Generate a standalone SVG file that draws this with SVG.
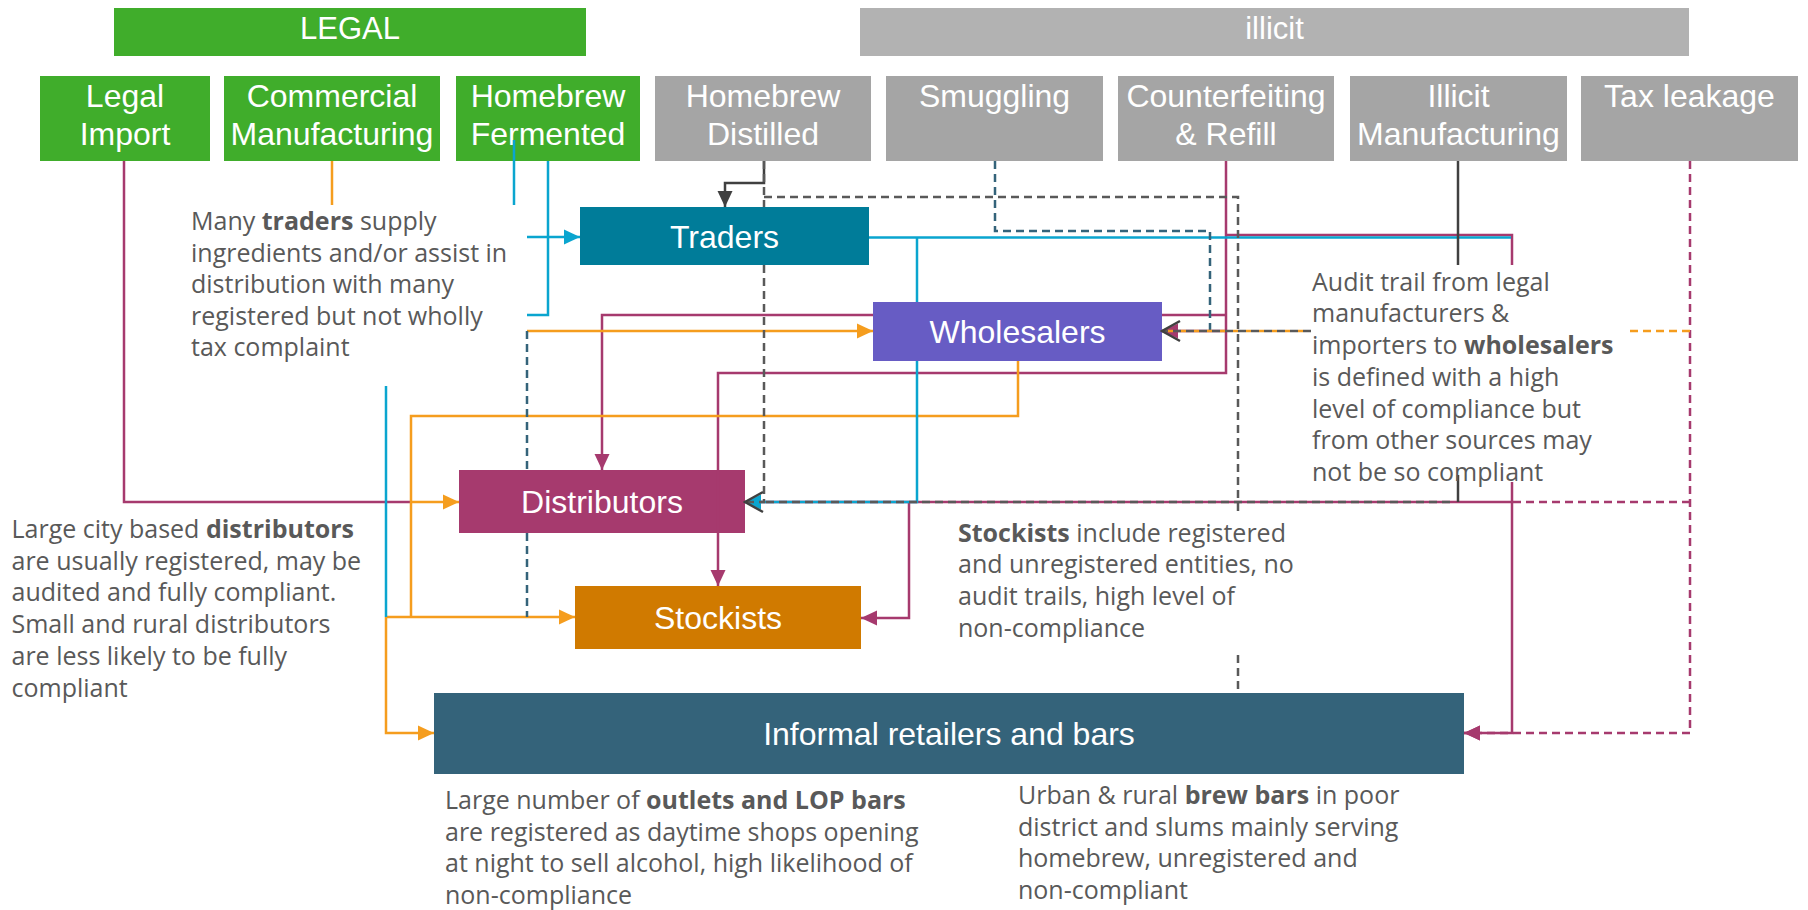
<svg xmlns="http://www.w3.org/2000/svg" width="1808" height="910" viewBox="0 0 1808 910">
<style>
.hdr{font-family:"Liberation Sans",Arial,sans-serif;font-size:31px;fill:#fff;text-anchor:middle}
.bt{font-family:"Liberation Sans",Arial,sans-serif;font-size:32px;fill:#fff;text-anchor:middle}
.note{font-family:"Open Sans","DejaVu Sans",sans-serif;font-size:25px;fill:#595959}
.b{font-weight:bold}
.ln{fill:none;stroke-width:2.5}
.mg{stroke:#A63A6E}
.or{stroke:#F59D1E}
.bl{stroke:#0AA5CF}
.dk{stroke:#404040}
.dd{stroke:#595959;stroke-dasharray:8 5}
.sd{stroke:#34637A;stroke-dasharray:8 5}
.md{stroke:#A63A6E;stroke-dasharray:8 5}
.od{stroke:#F59D1E;stroke-dasharray:8 5}
.odi{stroke:#F59D1E;stroke-dasharray:5 8;stroke-dashoffset:5}
</style>
<defs>
<marker id="aM" markerUnits="userSpaceOnUse" viewBox="0 0 16 16" markerWidth="16" markerHeight="16" refX="16" refY="8" orient="auto"><path d="M0,0.5 L16,8 L0,15.5 Z" fill="#A63A6E"/></marker>
<marker id="aO" markerUnits="userSpaceOnUse" viewBox="0 0 16 16" markerWidth="16" markerHeight="16" refX="16" refY="8" orient="auto"><path d="M0,0.5 L16,8 L0,15.5 Z" fill="#F59D1E"/></marker>
<marker id="aB" markerUnits="userSpaceOnUse" viewBox="0 0 16 16" markerWidth="16" markerHeight="16" refX="16" refY="8" orient="auto"><path d="M0,0.5 L16,8 L0,15.5 Z" fill="#0AA5CF"/></marker>
<marker id="aD" markerUnits="userSpaceOnUse" viewBox="0 0 16 16" markerWidth="16" markerHeight="16" refX="16" refY="8" orient="auto"><path d="M0,0.5 L16,8 L0,15.5 Z" fill="#404040"/></marker>
<marker id="aV" markerUnits="userSpaceOnUse" viewBox="0 0 22 24" markerWidth="22" markerHeight="24" refX="20" refY="12" orient="auto"><path d="M2,2 L20,12 L2,22" fill="none" stroke="#404040" stroke-width="2.5"/></marker>
</defs>
<rect x="0" y="0" width="1808" height="910" fill="#fff"/>

<g id="header-legal"><rect x="114" y="8" width="472" height="48" fill="#40AD2B"/><text class="hdr" x="350" y="39">LEGAL</text></g>
<g id="header-illicit"><rect x="860" y="8" width="829" height="48" fill="#B2B2B2"/><text class="hdr" x="1274.5" y="39">illicit</text></g>

<g id="legal-import"><rect x="40" y="76" width="170" height="85" fill="#40AD2B"/><text class="bt" x="125" y="107">Legal<tspan x="125" dy="38">Import</tspan></text></g>
<g id="commercial-manufacturing"><rect x="224" y="76" width="216" height="85" fill="#40AD2B"/><text class="bt" x="332" y="107">Commercial<tspan x="332" dy="38">Manufacturing</tspan></text></g>
<g id="homebrew-fermented"><rect x="456" y="76" width="184" height="85" fill="#40AD2B"/><text class="bt" x="548" y="107">Homebrew<tspan x="548" dy="38">Fermented</tspan></text></g>
<g id="homebrew-distilled"><rect x="655" y="76" width="216" height="85" fill="#A5A5A5"/><text class="bt" x="763" y="107">Homebrew<tspan x="763" dy="38">Distilled</tspan></text></g>
<g id="smuggling"><rect x="886" y="76" width="217" height="85" fill="#A5A5A5"/><text class="bt" x="994.5" y="107">Smuggling</text></g>
<g id="counterfeiting"><rect x="1118" y="76" width="216" height="85" fill="#A5A5A5"/><text class="bt" x="1226" y="107">Counterfeiting<tspan x="1226" dy="38">&amp; Refill</tspan></text></g>
<g id="illicit-manufacturing"><rect x="1350" y="76" width="217" height="85" fill="#A5A5A5"/><text class="bt" x="1458.5" y="107">Illicit<tspan x="1458.5" dy="38">Manufacturing</tspan></text></g>
<g id="tax-leakage"><rect x="1581" y="76" width="217" height="85" fill="#A5A5A5"/><text class="bt" x="1689.5" y="107">Tax leakage</text></g>

<g id="traders"><rect x="580" y="207" width="289" height="58" fill="#007C99"/><text class="bt" x="724.5" y="248">Traders</text></g>
<g id="wholesalers"><rect x="873" y="302" width="289" height="59" fill="#675CC4"/><text class="bt" x="1017.5" y="342.5">Wholesalers</text></g>
<g id="distributors"><rect x="459" y="470" width="286" height="63" fill="#A63A6E"/><text class="bt" x="602" y="513">Distributors</text></g>
<g id="stockists"><rect x="575" y="586" width="286" height="63" fill="#D07A00"/><text class="bt" x="718" y="629">Stockists</text></g>
<g id="informal"><rect x="434" y="693" width="1030" height="81" fill="#34637A"/><text class="bt" x="949" y="744.5">Informal retailers and bars</text></g>

<g id="connectors">
<path class="ln mg" d="M124,161 V502 H411"/>
<path class="ln mg" d="M1226,161 V373 H718 V586" marker-end="url(#aM)"/>
<path class="ln mg" d="M1226,315 H1162"/>
<path class="ln mg" d="M873,315 H602 V470" marker-end="url(#aM)"/>
<path class="ln mg" d="M1226,331 H1162" marker-end="url(#aM)"/>
<path class="ln mg" d="M1226,235 H1512 V265"/>
<path class="ln mg" d="M1512,482 V733 H1464" marker-end="url(#aM)"/>
<path class="ln mg" d="M1512,502 H745"/>
<path class="ln mg" d="M909,502 V618 H861" marker-end="url(#aM)"/>
<path class="ln md" d="M1690,161 V733 H1464" marker-end="url(#aM)"/>
<path class="ln md" d="M1690,502 H1512"/>
<path class="ln od" d="M1690,331 H1628"/>
<path class="ln or" d="M332,161 V205"/>
<path class="ln or" d="M527,331 H873" marker-end="url(#aO)"/>
<path class="ln or" d="M1018,361 V416 H411 V617"/>
<path class="ln or" d="M411,502 H459" marker-end="url(#aO)"/>
<path class="ln or" d="M386,617 H575" marker-end="url(#aO)"/>
<path class="ln or" d="M386,617 V733 H434" marker-end="url(#aO)"/>
<path class="ln bl" d="M514,140 V205"/>
<path class="ln bl" d="M548,161 V315 H527"/>
<path class="ln bl" d="M527,237 H580" marker-end="url(#aB)"/>
<path class="ln bl" d="M386,386 V617"/>
<path class="ln bl" d="M869,237.5 H1511"/>
<path class="ln bl" d="M917,237.5 V302"/>
<path class="ln bl" d="M917,361 V502 H745" marker-end="url(#aB)"/>
<path class="ln dk" d="M764,161 V183 H725 V207" marker-end="url(#aD)"/>
<path class="ln dd" d="M764,161 V207"/>
<path class="ln dd" d="M764,197 H1238 V516"/>
<path class="ln dd" d="M1238,655 V692"/>
<path class="ln dd" d="M764,265 V502 H745" marker-end="url(#aV)"/>
<path class="ln dd" d="M1450,502 H764"/>
<path class="ln sd" d="M995,161 V231 H1210 V331"/>
<path class="ln sd" d="M527,331 V470"/>
<path class="ln sd" d="M527,533 V617"/>
<path class="ln dk" d="M1458,161 V265"/>
<path class="ln dk" d="M1458,475 V502"/>
<path class="ln odi" d="M1311,331 H1162"/>
<path class="ln dd" d="M1311,331 H1162" marker-end="url(#aV)"/>
</g>

<g id="note-traders"><text class="note" x="191" y="230">Many <tspan class="b">traders</tspan> supply<tspan x="191" dy="31.6">ingredients and/or assist in</tspan><tspan x="191" dy="31.6">distribution with many</tspan><tspan x="191" dy="31.6">registered but not wholly</tspan><tspan x="191" dy="31.6">tax complaint</tspan></text></g>
<g id="note-distributors"><text class="note" x="11.5" y="538">Large city based <tspan class="b">distributors</tspan><tspan x="11.5" dy="31.7">are usually registered, may be</tspan><tspan x="11.5" dy="31.7">audited and fully compliant.</tspan><tspan x="11.5" dy="31.7">Small and rural distributors</tspan><tspan x="11.5" dy="31.7">are less likely to be fully</tspan><tspan x="11.5" dy="31.7">compliant</tspan></text></g>
<g id="note-audit"><text class="note" x="1312" y="290.7">Audit trail from legal<tspan x="1312" dy="31.7">manufacturers &amp;</tspan><tspan x="1312" dy="31.7">importers to <tspan class="b">wholesalers</tspan></tspan><tspan x="1312" dy="31.7">is defined with a high</tspan><tspan x="1312" dy="31.7">level of compliance but</tspan><tspan x="1312" dy="31.7">from other sources may</tspan><tspan x="1312" dy="31.7">not be so compliant</tspan></text></g>
<g id="note-stockists"><text class="note" x="958" y="541.7"><tspan class="b">Stockists</tspan> include registered<tspan x="958" dy="31.7">and unregistered entities, no</tspan><tspan x="958" dy="31.7">audit trails, high level of</tspan><tspan x="958" dy="31.7">non-compliance</tspan></text></g>
<g id="note-outlets"><text class="note" x="445" y="809">Large number of <tspan class="b">outlets and LOP bars</tspan><tspan x="445" dy="31.7">are registered as daytime shops opening</tspan><tspan x="445" dy="31.7">at night to sell alcohol, high likelihood of</tspan><tspan x="445" dy="31.7">non-compliance</tspan></text></g>
<g id="note-brewbars"><text class="note" x="1018" y="804">Urban &amp; rural <tspan class="b">brew bars</tspan> in poor<tspan x="1018" dy="31.7">district and slums mainly serving</tspan><tspan x="1018" dy="31.7">homebrew, unregistered and</tspan><tspan x="1018" dy="31.7">non-compliant</tspan></text></g>
</svg>
